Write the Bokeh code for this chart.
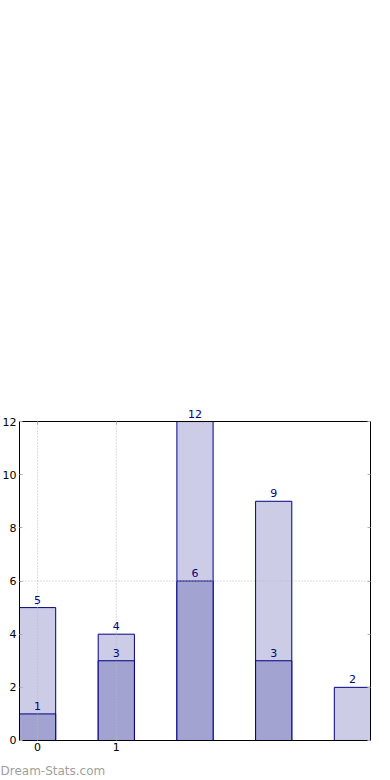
from bokeh.plotting import figure
from bokeh.models import ColumnDataSource, FixedTicker, LinearAxis, Label
from bokeh.embed import file_html
from bokeh.resources import INLINE
from bokeh.core.properties import value

x = [0, 1, 2, 3, 4]
back_vals = [5, 4, 12, 9, 2]
front_vals = [1, 3, 6, 3, float("nan")]
x_ticks = [0, 1]
y_ticks = [0, 2, 4, 6, 8, 10, 12]
y_grid = [6]

FONT = "DejaVu Sans"
X0, X1 = -0.23, 4.23     # visible axis box in data units
Y0, Y1 = 0, 12

p = figure(width=390, height=780, x_range=(-0.4714, 4.484), y_range=(-1.505, 27.84),
           output_backend="svg", toolbar_location=None,
           min_border_left=0, min_border_right=0, min_border_top=0, min_border_bottom=0,
           x_axis_location=None, y_axis_location=None)
p.background_fill_color = "white"
p.border_fill_color = "white"
p.outline_line_color = None
p.grid.visible = False

back = ColumnDataSource(dict(x=x, top=back_vals, lbl=[str(v) for v in back_vals]))
front_x = [xi for xi, v in zip(x, front_vals) if v == v]
front_top = [v for v in front_vals if v == v]
front = ColumnDataSource(dict(x=front_x, top=front_top, lbl=[str(int(v)) for v in front_top]))

p.vbar(x="x", top="top", bottom=0, width=0.46, source=back,
       fill_color="#ccccE6", line_color="#000080", line_width=1)
p.vbar(x="x", top="top", bottom=0, width=0.46, source=front,
       fill_color="#a3a3d1", line_color="#000080", line_width=1)

# dotted grid lines drawn over the bars, limited to the axis box
GRID = dict(line_color="#b8b8b8", line_dash="1 2", line_width=1)
p.segment(x0=x_ticks, x1=x_ticks, y0=[Y0] * len(x_ticks), y1=[Y1] * len(x_ticks), **GRID)
p.segment(x0=[X0] * len(y_grid), x1=[X1] * len(y_grid), y0=y_grid, y1=y_grid, **GRID)

for src in (back, front):
    p.text(x="x", y="top", text="lbl", source=src, text_align="center",
           text_baseline="bottom", y_offset=-4, text_color="#000080",
           text_font=value(FONT), text_font_size="11px")


def mk_axis(ticks, loc, bounds, labels):
    ax = LinearAxis(ticker=FixedTicker(ticks=ticks), fixed_location=loc, bounds=bounds)
    ax.axis_line_color = "black"
    ax.axis_line_width = 1
    ax.major_tick_in = 3
    ax.major_tick_out = 0
    ax.major_tick_line_color = "#b0b0b0"
    ax.minor_tick_line_color = None
    ax.major_label_text_font = FONT
    ax.major_label_text_font_size = "11px"
    ax.major_label_text_color = "black" if labels else None
    ax.major_label_standoff = 3
    return ax


p.add_layout(mk_axis(y_ticks, X0, (Y0, Y1), True), "left")
p.add_layout(mk_axis(y_ticks, X1, (Y0, Y1), False), "right")
p.add_layout(mk_axis(x_ticks, Y0, (X0, X1), True), "below")
p.add_layout(mk_axis(x_ticks, Y1, (X0, X1), False), "above")

wm = Label(x=0, y=3, x_units="screen", y_units="screen", text="Dream-Stats.com",
           text_font=FONT, text_font_size="12px", text_font_style="normal",
           text_color="#a0a0a0")
p.add_layout(wm)

open("out.html", "w").write(file_html(p, INLINE))
